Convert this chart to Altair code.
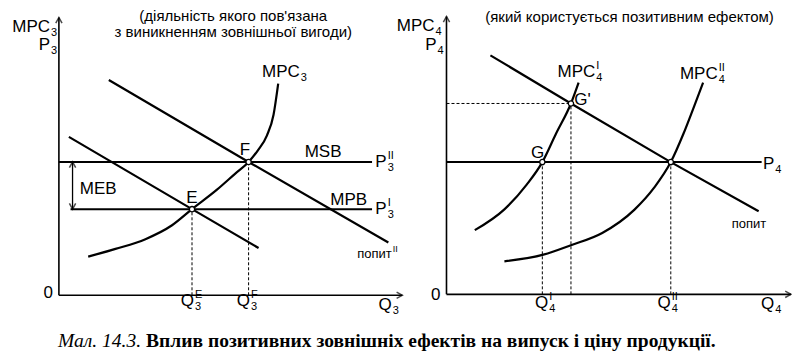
import altair as alt
import pandas as pd

# ---------------- Left panel: industry whose activity creates an external benefit ----------------
Q3_E, Q3_F = 4.0, 5.7            # Q3^E, Q3^F
P3_I, P3_II = 3.1, 4.8           # P3^I, P3^II
mpb_q = [0.3, 4.0, 6.0]          # MPB (demand I)
mpb_p = [5.7, 3.1, 1.7]
msb_q = [1.5, 5.7, 9.9]          # MSB (demand II)
msb_p = [7.75, 4.8, 1.9]
mpc3_q = [0.88, 1.7, 2.6, 3.4, 4.0, 4.75, 5.3, 5.7, 5.98, 6.25, 6.45, 6.59]
mpc3_p = [1.39, 1.67, 2.02, 2.52, 3.1, 3.8, 4.38, 4.8, 5.22, 5.75, 6.5, 7.62]

# ---------------- Right panel: industry that enjoys the positive effect ----------------
P4 = 4.76
Q4_I, Q4_G1, Q4_II = 2.88, 3.74, 6.74
P4_G1 = 6.87
dem4_q = [1.32, 3.74, 6.74, 9.38]
dem4_p = [8.6, 6.87, 4.76, 2.99]
mpc4i_q = [0.85, 1.74, 2.41, 2.88, 3.29, 3.74, 3.97]
mpc4i_p = [2.31, 3.06, 3.95, 4.76, 5.78, 6.87, 7.62]
mpc4ii_q = [1.74, 2.91, 3.74, 4.68, 5.65, 6.24, 6.74, 7.12, 7.41, 7.71]
mpc4ii_p = [1.19, 1.43, 1.77, 2.21, 3.05, 3.84, 4.76, 5.78, 6.67, 7.62]

# ---------------- texts ----------------
title_left = ["(діяльність якого пов'язана", "з виникненням зовнішньої вигоди)"]
title_right = "(який користується позитивним ефектом)"
caption_it = "Мал. 14.3."
caption_bold = "Вплив позитивних зовнішніх ефектів на випуск і ціну продукції."

# ---------------- layout ----------------
W, H = 784, 344
KX, KY = W / 801, H / 364
SC = {
    "L": (alt.Scale(domain=[0, 10], range=[KX * 52, KX * 392], nice=False, zero=False),
          alt.Scale(domain=[0, 10], range=[KY * 304, KY * 10], nice=False, zero=False)),
    "R": (alt.Scale(domain=[0, 10], range=[KX * 448, KX * 788], nice=False, zero=False),
          alt.Scale(domain=[0, 10], range=[KY * 303, KY * 9], nice=False, zero=False)),
}


def pos(panel, two=False):
    sx, sy = SC[panel]
    e = dict(x=alt.X("q:Q", scale=sx, axis=None), y=alt.Y("p:Q", scale=sy, axis=None))
    if two:
        e.update(x2="q2:Q", y2="p2:Q")
    return e


def curve_df(items):
    rows = []
    for name, qs, ps in items:
        rows += [{"id": name, "q": a, "p": b} for a, b in zip(qs, ps)]
    return pd.DataFrame(rows)


FONT = "Liberation Sans"
ARROW = "M-0.55,1L0,0L0.55,1"

panels = {
    "L": dict(
        curves=[("MPC3", mpc3_q, mpc3_p)],
        straight=[("MPB", mpb_q, mpb_p), ("MSB", msb_q, msb_p)],
        axes=[(0, 0, 0, 10), (0, 0, 10.32, 0)],
        solid=[(0, P3_II, 9.41, P3_II), (0.35, P3_I, 9.41, P3_I)],
        thin=[(0.41, P3_I, 0.41, P3_II)],
        dashed=[(Q3_E, 0, Q3_E, P3_I), (Q3_F, 0, Q3_F, P3_II)],
        arrows=[(0, 10, 0), (10.32, 0, 90), (0.41, P3_II, 0), (0.41, P3_I, 180)],
        dots=[(Q3_E, P3_I), (Q3_F, P3_II)],
        plain=[("F", 5.59, 5.24), ("E", 4.0, 3.50), ("MEB", 1.18, 3.84),
               ("MSB", 7.94, 5.17), ("MPB", 8.71, 3.44), ("0", -0.32, 0.10)],
        small=[],
        comp=[("MPC", "", "3", -0.265, 9.66), ("P", "", "3", -0.265, 9.01),
              ("MPC", "", "3", 7.24, 8.03), ("P", "II", "3", 9.85, P3_II),
              ("P", "I", "3", 9.85, P3_I), ("Q", "E", "3", 4.06, -0.20),
              ("Q", "F", "3", 5.74, -0.20), ("Q", "", "3", 10.0, -0.34)],
        smallcomp=[("попит", "II", "", 10.0, 1.50)],
        titles=[(title_left[0], 5.24, 10.04), (title_left[1], 5.24, 9.46)],
    ),
    "R": dict(
        curves=[("MPC4I", mpc4i_q, mpc4i_p), ("MPC4II", mpc4ii_q, mpc4ii_p)],
        straight=[("D4", dem4_q, dem4_p)],
        axes=[(0, 0, 0, 10.0), (0, 0, 10.35, 0)],
        solid=[(0, P4, 9.47, P4)],
        thin=[],
        dashed=[(Q4_I, 0, Q4_I, P4), (Q4_G1, 0, Q4_G1, P4_G1), (Q4_II, 0, Q4_II, P4),
                (0, P4_G1, Q4_G1, P4_G1)],
        arrows=[(0, 10.0, 0), (10.35, 0, 90)],
        dots=[(Q4_I, P4), (Q4_G1, P4_G1), (Q4_II, P4)],
        plain=[("G'", 4.09, 7.01), ("G", 2.74, 5.10), ("0", -0.32, -0.03)],
        small=[("попит", 9.09, 2.55)],
        comp=[("MPC", "", "4", -0.36, 9.66), ("P", "", "4", -0.3, 8.98),
              ("MPC", "I", "4", 4.47, 7.99), ("MPC", "II", "4", 8.15, 7.93),
              ("P", "", "4", 9.85, 4.69), ("Q", "I", "4", 3.06, -0.31),
              ("Q", "II", "4", 6.74, -0.31), ("Q", "", "4", 9.85, -0.34)],
        smallcomp=[],
        titles=[(title_right, 5.5, 10.0)],
    ),
}

layers = []
for pn, d in panels.items():
    seg = lambda lst: pd.DataFrame(lst, columns=["q", "p", "q2", "p2"])
    layers.append(alt.Chart(seg(d["axes"])).mark_rule(stroke="black", strokeWidth=1.6).encode(**pos(pn, True)))
    layers.append(alt.Chart(seg(d["dashed"])).mark_rule(stroke="black", strokeWidth=1, strokeDash=[3, 2]).encode(**pos(pn, True)))
    layers.append(alt.Chart(seg(d["solid"])).mark_rule(stroke="black", strokeWidth=2).encode(**pos(pn, True)))
    if d["thin"]:
        layers.append(alt.Chart(seg(d["thin"])).mark_rule(stroke="black", strokeWidth=1.3).encode(**pos(pn, True)))
    layers.append(alt.Chart(curve_df(d["straight"])).mark_line(stroke="black", strokeWidth=2.2)
                  .encode(detail="id:N", **pos(pn)))
    layers.append(alt.Chart(curve_df(d["curves"])).mark_line(stroke="black", strokeWidth=2.2, interpolate="monotone")
                  .encode(detail="id:N", **pos(pn)))
    ar = pd.DataFrame(d["arrows"], columns=["q", "p", "a"])
    layers.append(alt.Chart(ar).mark_point(shape=ARROW, size=130, filled=False, stroke="black", strokeWidth=1.5)
                  .encode(angle=alt.Angle("a:Q", scale=None), **pos(pn)))
    dt = pd.DataFrame(d["dots"], columns=["q", "p"])
    layers.append(alt.Chart(dt).mark_point(shape="circle", size=28, filled=True, fill="white", stroke="black",
                                           strokeWidth=1.3, opacity=1).encode(**pos(pn)))
    pl = pd.DataFrame(d["plain"], columns=["t", "q", "p"])
    layers.append(alt.Chart(pl).mark_text(font=FONT, fontSize=17, align="center", baseline="middle", color="black")
                  .encode(text="t:N", **pos(pn)))
    if d["small"]:
        sm = pd.DataFrame(d["small"], columns=["t", "q", "p"])
        layers.append(alt.Chart(sm).mark_text(font=FONT, fontSize=13, align="center", baseline="middle", color="black")
                      .encode(text="t:N", **pos(pn)))
    for key, fs, sfs, off in (("comp", 17, 11, 6), ("smallcomp", 13, 9, 5)):
        if not d[key]:
            continue
        cp = pd.DataFrame(d[key], columns=["t", "sup", "sub", "q", "p"])
        layers.append(alt.Chart(cp).mark_text(font=FONT, fontSize=fs, align="right", baseline="middle", color="black")
                      .encode(text="t:N", **pos(pn)))
        layers.append(alt.Chart(cp).mark_text(font=FONT, fontSize=sfs, align="left", baseline="middle", dx=1, dy=-off,
                                              color="black").encode(text="sup:N", **pos(pn)))
        layers.append(alt.Chart(cp).mark_text(font=FONT, fontSize=sfs, align="left", baseline="middle", dx=1, dy=off,
                                              color="black").encode(text="sub:N", **pos(pn)))
    tt = pd.DataFrame(d["titles"], columns=["t", "q", "p"])
    layers.append(alt.Chart(tt).mark_text(font=FONT, fontSize=15, align="center", baseline="middle", color="black")
                  .encode(text="t:N", **pos(pn)))

cap = pd.DataFrame([{"t1": caption_it, "t2": caption_bold, "q": 2.47, "q2": 2.62, "p": -1.63}])
sx, sy = SC["L"]
layers.append(alt.Chart(cap).mark_text(font="Liberation Serif", fontSize=19.5, fontStyle="italic", align="right",
                                       baseline="middle", color="black")
              .encode(x=alt.X("q:Q", scale=sx, axis=None), y=alt.Y("p:Q", scale=sy, axis=None), text="t1:N"))
layers.append(alt.Chart(cap).mark_text(font="Liberation Serif", fontSize=19.5, fontWeight="bold", align="left",
                                       baseline="middle", color="black")
              .encode(x=alt.X("q2:Q", scale=sx, axis=None), y=alt.Y("p:Q", scale=sy, axis=None), text="t2:N"))

chart = (alt.layer(*layers)
         .resolve_scale(x="independent", y="independent")
         .properties(width=W, height=H, autosize=alt.AutoSizeParams(type="none"), padding=0,
                     background="white")
         .configure_view(stroke=None))

chart.save("out.html", embed_options={"renderer": "svg", "actions": False})
